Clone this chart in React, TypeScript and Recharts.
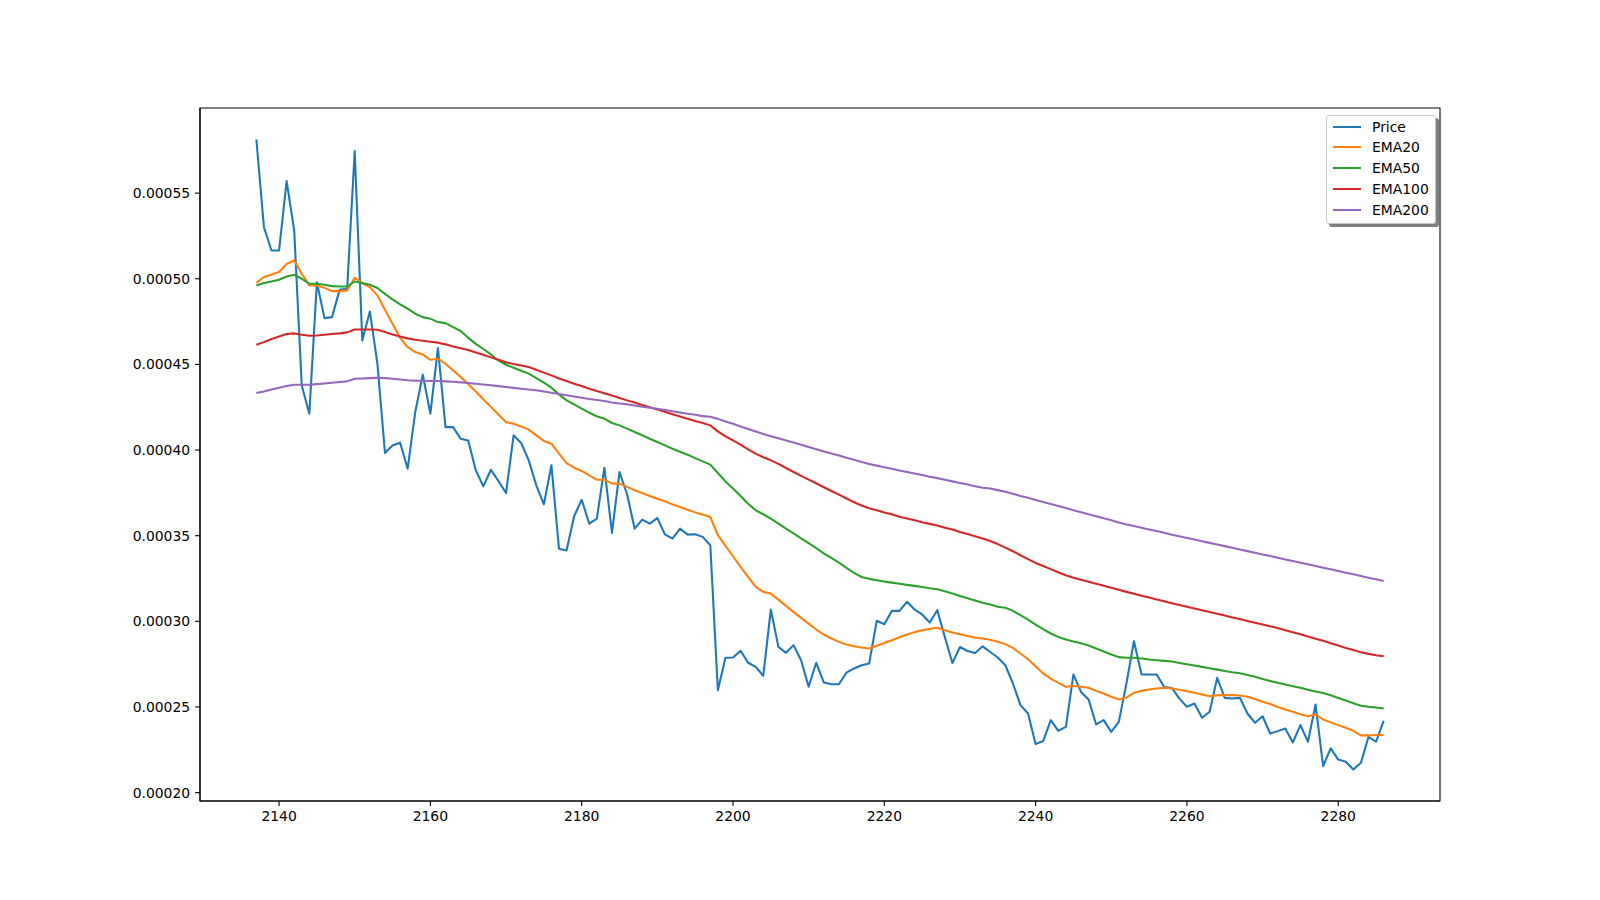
import React from 'react';
import { LineChart, Line, XAxis, YAxis, ReferenceArea, Legend } from 'recharts';

// x index of the first point; one point per integer index
const START_INDEX = 2137;

const price = [
  58.13e-5, 53.01e-5, 51.65e-5, 51.65e-5, 55.70e-5, 52.82e-5, 43.77e-5, 42.12e-5, 49.80e-5, 47.70e-5,
  47.76e-5, 49.35e-5, 49.41e-5, 57.45e-5, 46.40e-5, 48.09e-5, 45.04e-5, 39.83e-5, 40.27e-5, 40.43e-5,
  38.91e-5, 42.22e-5, 44.40e-5, 42.12e-5, 45.95e-5, 41.34e-5, 41.34e-5, 40.66e-5, 40.56e-5, 38.82e-5,
  37.88e-5, 38.85e-5, 38.19e-5, 37.49e-5, 40.86e-5, 40.41e-5, 39.40e-5, 37.94e-5, 36.83e-5, 39.11e-5,
  34.24e-5, 34.14e-5, 36.13e-5, 37.10e-5, 35.70e-5, 35.99e-5, 38.97e-5, 35.16e-5, 38.72e-5, 37.42e-5,
  35.41e-5, 35.94e-5, 35.70e-5, 36.03e-5, 35.08e-5, 34.83e-5, 35.41e-5, 35.06e-5, 35.08e-5, 34.93e-5,
  34.44e-5, 25.98e-5, 27.87e-5, 27.89e-5, 28.28e-5, 27.58e-5, 27.34e-5, 26.82e-5, 30.69e-5, 28.51e-5,
  28.16e-5, 28.61e-5, 27.73e-5, 26.18e-5, 27.58e-5, 26.43e-5, 26.33e-5, 26.33e-5, 27.01e-5, 27.25e-5,
  27.44e-5, 27.54e-5, 30.03e-5, 29.83e-5, 30.61e-5, 30.61e-5, 31.14e-5, 30.69e-5, 30.40e-5, 29.93e-5,
  30.65e-5, 29.09e-5, 27.57e-5, 28.50e-5, 28.27e-5, 28.15e-5, 28.54e-5, 28.21e-5, 27.89e-5, 27.44e-5,
  26.37e-5, 25.11e-5, 24.62e-5, 22.83e-5, 23.01e-5, 24.23e-5, 23.61e-5, 23.84e-5, 26.90e-5, 25.88e-5,
  25.44e-5, 23.98e-5, 24.23e-5, 23.55e-5, 24.13e-5, 26.37e-5, 28.84e-5, 26.90e-5, 26.90e-5, 26.90e-5,
  26.17e-5, 26.11e-5, 25.49e-5, 25.01e-5, 25.20e-5, 24.37e-5, 24.72e-5, 26.70e-5, 25.53e-5, 25.49e-5,
  25.53e-5, 24.62e-5, 24.08e-5, 24.46e-5, 23.45e-5, 23.59e-5, 23.74e-5, 22.93e-5, 23.94e-5, 22.97e-5,
  25.14e-5, 21.55e-5, 22.58e-5, 21.93e-5, 21.80e-5, 21.35e-5, 21.74e-5, 23.26e-5, 22.97e-5, 24.19e-5,
];

const ema20 = [
  49.76e-5, 50.10e-5, 50.25e-5, 50.39e-5, 50.87e-5, 51.07e-5, 50.29e-5, 49.61e-5, 49.61e-5, 49.47e-5,
  49.28e-5, 49.28e-5, 49.32e-5, 50.06e-5, 49.75e-5, 49.51e-5, 49.03e-5, 48.19e-5, 47.37e-5, 46.55e-5,
  46.01e-5, 45.72e-5, 45.58e-5, 45.27e-5, 45.33e-5, 45.04e-5, 44.65e-5, 44.26e-5, 43.85e-5, 43.42e-5,
  42.96e-5, 42.52e-5, 42.08e-5, 41.63e-5, 41.53e-5, 41.38e-5, 41.19e-5, 40.86e-5, 40.53e-5, 40.37e-5,
  39.79e-5, 39.24e-5, 38.97e-5, 38.78e-5, 38.52e-5, 38.27e-5, 38.27e-5, 38.04e-5, 38.04e-5, 37.85e-5,
  37.65e-5, 37.49e-5, 37.32e-5, 37.16e-5, 37.01e-5, 36.83e-5, 36.67e-5, 36.52e-5, 36.36e-5, 36.23e-5,
  36.09e-5, 35.03e-5, 34.40e-5, 33.80e-5, 33.18e-5, 32.59e-5, 32.01e-5, 31.72e-5, 31.62e-5, 31.27e-5,
  30.90e-5, 30.55e-5, 30.20e-5, 29.87e-5, 29.52e-5, 29.23e-5, 29.00e-5, 28.80e-5, 28.65e-5, 28.55e-5,
  28.47e-5, 28.41e-5, 28.57e-5, 28.74e-5, 28.90e-5, 29.07e-5, 29.23e-5, 29.37e-5, 29.48e-5, 29.56e-5,
  29.62e-5, 29.48e-5, 29.35e-5, 29.25e-5, 29.15e-5, 29.05e-5, 29.00e-5, 28.92e-5, 28.81e-5, 28.67e-5,
  28.45e-5, 28.12e-5, 27.79e-5, 27.38e-5, 26.96e-5, 26.66e-5, 26.41e-5, 26.18e-5, 26.22e-5, 26.18e-5,
  26.12e-5, 25.94e-5, 25.79e-5, 25.60e-5, 25.44e-5, 25.56e-5, 25.83e-5, 25.94e-5, 26.02e-5, 26.08e-5,
  26.12e-5, 26.08e-5, 26.00e-5, 25.92e-5, 25.83e-5, 25.73e-5, 25.63e-5, 25.69e-5, 25.69e-5, 25.69e-5,
  25.67e-5, 25.60e-5, 25.46e-5, 25.30e-5, 25.17e-5, 25.00e-5, 24.85e-5, 24.72e-5, 24.58e-5, 24.46e-5,
  24.56e-5, 24.27e-5, 24.10e-5, 23.94e-5, 23.79e-5, 23.61e-5, 23.34e-5, 23.34e-5, 23.36e-5, 23.36e-5,
];

const ema50 = [
  49.61e-5, 49.75e-5, 49.84e-5, 49.94e-5, 50.13e-5, 50.23e-5, 50.00e-5, 49.71e-5, 49.71e-5, 49.65e-5,
  49.57e-5, 49.55e-5, 49.55e-5, 49.84e-5, 49.75e-5, 49.65e-5, 49.46e-5, 49.12e-5, 48.79e-5, 48.50e-5,
  48.25e-5, 47.96e-5, 47.76e-5, 47.67e-5, 47.47e-5, 47.41e-5, 47.18e-5, 46.95e-5, 46.55e-5, 46.20e-5,
  45.90e-5, 45.58e-5, 45.23e-5, 44.98e-5, 44.81e-5, 44.63e-5, 44.46e-5, 44.20e-5, 43.93e-5, 43.64e-5,
  43.25e-5, 42.90e-5, 42.67e-5, 42.42e-5, 42.18e-5, 41.97e-5, 41.83e-5, 41.58e-5, 41.44e-5, 41.25e-5,
  41.05e-5, 40.86e-5, 40.66e-5, 40.47e-5, 40.27e-5, 40.08e-5, 39.90e-5, 39.73e-5, 39.53e-5, 39.34e-5,
  39.15e-5, 38.66e-5, 38.17e-5, 37.75e-5, 37.32e-5, 36.87e-5, 36.48e-5, 36.25e-5, 36.00e-5, 35.71e-5,
  35.41e-5, 35.14e-5, 34.85e-5, 34.56e-5, 34.27e-5, 33.97e-5, 33.70e-5, 33.43e-5, 33.12e-5, 32.83e-5,
  32.59e-5, 32.48e-5, 32.40e-5, 32.32e-5, 32.26e-5, 32.19e-5, 32.13e-5, 32.07e-5, 32.01e-5, 31.93e-5,
  31.87e-5, 31.75e-5, 31.62e-5, 31.48e-5, 31.35e-5, 31.21e-5, 31.08e-5, 30.98e-5, 30.85e-5, 30.79e-5,
  30.61e-5, 30.36e-5, 30.10e-5, 29.81e-5, 29.54e-5, 29.29e-5, 29.09e-5, 28.94e-5, 28.82e-5, 28.72e-5,
  28.59e-5, 28.41e-5, 28.24e-5, 28.06e-5, 27.91e-5, 27.87e-5, 27.87e-5, 27.83e-5, 27.77e-5, 27.73e-5,
  27.69e-5, 27.65e-5, 27.57e-5, 27.50e-5, 27.42e-5, 27.34e-5, 27.26e-5, 27.18e-5, 27.10e-5, 27.03e-5,
  26.97e-5, 26.87e-5, 26.76e-5, 26.64e-5, 26.52e-5, 26.41e-5, 26.31e-5, 26.21e-5, 26.12e-5, 26.00e-5,
  25.90e-5, 25.81e-5, 25.69e-5, 25.53e-5, 25.38e-5, 25.22e-5, 25.07e-5, 25.01e-5, 24.97e-5, 24.91e-5,
];

const ema100 = [
  46.15e-5, 46.30e-5, 46.48e-5, 46.63e-5, 46.77e-5, 46.81e-5, 46.73e-5, 46.67e-5, 46.69e-5, 46.73e-5,
  46.77e-5, 46.81e-5, 46.87e-5, 47.04e-5, 47.04e-5, 47.04e-5, 47.02e-5, 46.89e-5, 46.75e-5, 46.63e-5,
  46.52e-5, 46.44e-5, 46.38e-5, 46.32e-5, 46.27e-5, 46.17e-5, 46.05e-5, 45.94e-5, 45.84e-5, 45.70e-5,
  45.56e-5, 45.41e-5, 45.27e-5, 45.12e-5, 45.02e-5, 44.94e-5, 44.85e-5, 44.69e-5, 44.52e-5, 44.36e-5,
  44.18e-5, 44.03e-5, 43.87e-5, 43.74e-5, 43.58e-5, 43.45e-5, 43.31e-5, 43.18e-5, 43.04e-5, 42.90e-5,
  42.77e-5, 42.63e-5, 42.50e-5, 42.36e-5, 42.23e-5, 42.09e-5, 41.96e-5, 41.83e-5, 41.70e-5, 41.58e-5,
  41.44e-5, 41.09e-5, 40.80e-5, 40.57e-5, 40.32e-5, 40.04e-5, 39.79e-5, 39.58e-5, 39.40e-5, 39.19e-5,
  38.95e-5, 38.72e-5, 38.49e-5, 38.27e-5, 38.06e-5, 37.83e-5, 37.61e-5, 37.40e-5, 37.17e-5, 36.95e-5,
  36.76e-5, 36.60e-5, 36.48e-5, 36.35e-5, 36.25e-5, 36.11e-5, 36.00e-5, 35.90e-5, 35.78e-5, 35.69e-5,
  35.59e-5, 35.47e-5, 35.36e-5, 35.22e-5, 35.10e-5, 34.97e-5, 34.83e-5, 34.69e-5, 34.51e-5, 34.30e-5,
  34.09e-5, 33.86e-5, 33.63e-5, 33.41e-5, 33.23e-5, 33.05e-5, 32.87e-5, 32.69e-5, 32.54e-5, 32.43e-5,
  32.31e-5, 32.19e-5, 32.08e-5, 31.96e-5, 31.84e-5, 31.72e-5, 31.61e-5, 31.50e-5, 31.39e-5, 31.28e-5,
  31.17e-5, 31.06e-5, 30.96e-5, 30.85e-5, 30.75e-5, 30.65e-5, 30.55e-5, 30.44e-5, 30.34e-5, 30.23e-5,
  30.13e-5, 30.02e-5, 29.92e-5, 29.81e-5, 29.71e-5, 29.61e-5, 29.48e-5, 29.36e-5, 29.25e-5, 29.11e-5,
  28.99e-5, 28.86e-5, 28.72e-5, 28.59e-5, 28.45e-5, 28.32e-5, 28.20e-5, 28.10e-5, 28.02e-5, 27.96e-5,
];

const ema200 = [
  43.33e-5, 43.42e-5, 43.54e-5, 43.64e-5, 43.74e-5, 43.81e-5, 43.81e-5, 43.81e-5, 43.85e-5, 43.89e-5,
  43.93e-5, 43.97e-5, 44.01e-5, 44.16e-5, 44.18e-5, 44.20e-5, 44.22e-5, 44.20e-5, 44.16e-5, 44.12e-5,
  44.07e-5, 44.05e-5, 44.05e-5, 44.03e-5, 44.03e-5, 44.01e-5, 43.99e-5, 43.95e-5, 43.91e-5, 43.87e-5,
  43.83e-5, 43.78e-5, 43.73e-5, 43.68e-5, 43.63e-5, 43.58e-5, 43.53e-5, 43.49e-5, 43.42e-5, 43.34e-5,
  43.27e-5, 43.20e-5, 43.13e-5, 43.05e-5, 42.98e-5, 42.92e-5, 42.86e-5, 42.78e-5, 42.72e-5, 42.67e-5,
  42.60e-5, 42.53e-5, 42.47e-5, 42.41e-5, 42.34e-5, 42.26e-5, 42.19e-5, 42.12e-5, 42.06e-5, 41.98e-5,
  41.94e-5, 41.82e-5, 41.67e-5, 41.53e-5, 41.37e-5, 41.23e-5, 41.08e-5, 40.94e-5, 40.81e-5, 40.69e-5,
  40.56e-5, 40.44e-5, 40.31e-5, 40.18e-5, 40.05e-5, 39.92e-5, 39.80e-5, 39.68e-5, 39.55e-5, 39.43e-5,
  39.30e-5, 39.19e-5, 39.09e-5, 39.00e-5, 38.91e-5, 38.81e-5, 38.72e-5, 38.63e-5, 38.54e-5, 38.44e-5,
  38.36e-5, 38.26e-5, 38.17e-5, 38.08e-5, 37.99e-5, 37.89e-5, 37.80e-5, 37.75e-5, 37.66e-5, 37.57e-5,
  37.45e-5, 37.32e-5, 37.21e-5, 37.09e-5, 36.97e-5, 36.85e-5, 36.73e-5, 36.61e-5, 36.49e-5, 36.37e-5,
  36.25e-5, 36.13e-5, 36.02e-5, 35.90e-5, 35.77e-5, 35.65e-5, 35.56e-5, 35.46e-5, 35.36e-5, 35.27e-5,
  35.17e-5, 35.06e-5, 34.97e-5, 34.87e-5, 34.78e-5, 34.68e-5, 34.58e-5, 34.49e-5, 34.39e-5, 34.30e-5,
  34.19e-5, 34.10e-5, 34.00e-5, 33.90e-5, 33.81e-5, 33.71e-5, 33.61e-5, 33.52e-5, 33.42e-5, 33.33e-5,
  33.23e-5, 33.13e-5, 33.04e-5, 32.94e-5, 32.84e-5, 32.75e-5, 32.65e-5, 32.55e-5, 32.46e-5, 32.36e-5,
];

const xTicks = [2140, 2160, 2180, 2200, 2220, 2240, 2260, 2280];
const yTicks = [0.0002, 0.00025, 0.0003, 0.00035, 0.0004, 0.00045, 0.0005, 0.00055];

const seriesKeys = ['price', 'ema20', 'ema50', 'ema100', 'ema200'];
const seriesNames = ['Price', 'EMA20', 'EMA50', 'EMA100', 'EMA200'];
const seriesColors = ['#1f77b4', '#ff7f0e', '#2ca02c', '#d62728', '#9467bd'];

const data = price.map((p, i) => ({
  x: START_INDEX + i,
  price: p,
  ema20: ema20[i],
  ema50: ema50[i],
  ema100: ema100[i],
  ema200: ema200[i],
}));

// matplotlib-like autoscale with 5% margins
const xMin = START_INDEX;
const xMax = START_INDEX + price.length - 1;
const xPad = (xMax - xMin) * 0.05;
const xDomain: [number, number] = [xMin - xPad, xMax + xPad];

const allVals = [...price, ...ema20, ...ema50, ...ema100, ...ema200];
const yMinV = Math.min(...allVals);
const yMaxV = Math.max(...allVals);
const yPad = (yMaxV - yMinV) * 0.05;
const yDomain: [number, number] = [yMinV - yPad, yMaxV + yPad];

const FONT = "'DejaVu Sans', sans-serif";
const FS = 13.9;

const LegendBox = () => (
  <div style={{ position: 'relative', width: 111, height: 110 }}>
    <div
      style={{
        position: 'absolute', left: 3, top: 3, width: 110, height: 109,
        background: 'rgba(0,0,0,0.5)', borderRadius: 3,
      }}
    />
    <div
      style={{
        position: 'absolute', left: 0, top: 0, width: 108, height: 107,
        background: '#fff', border: '1px solid #c8c8c8', borderRadius: 3,
        fontFamily: FONT, fontSize: FS, color: '#000',
      }}
    >
      {seriesNames.map((name, i) => (
        <div
          key={name}
          style={{ position: 'absolute', left: 0, top: 0.5 + i * 20.8, height: 20, display: 'flex', alignItems: 'center' }}
        >
          <div style={{ marginLeft: 6, width: 28, height: 2, background: seriesColors[i] }} />
          <span style={{ marginLeft: 11, lineHeight: '16px' }}>{name}</span>
        </div>
      ))}
    </div>
  </div>
);

export default function App() {
  return (
    <div style={{ position: 'absolute', left: 0, top: 0, width: 1600, height: 900, background: '#fff' }}>
      <LineChart
        width={1600}
        height={900}
        data={data}
        margin={{ top: 108, right: 160, bottom: 69, left: 100 }}
      >
        <XAxis
          dataKey="x"
          type="number"
          domain={xDomain}
          allowDataOverflow
          ticks={xTicks}
          height={30}
          tickSize={4.9}
          tickMargin={5}
          axisLine={{ stroke: '#000', strokeWidth: 1.1 }}
          tickLine={{ stroke: '#000', strokeWidth: 1.1 }}
          tick={{ fontFamily: FONT, fontSize: FS, fill: '#000' }}
        />
        <YAxis
          type="number"
          domain={yDomain}
          allowDataOverflow
          ticks={yTicks}
          width={100}
          tickSize={4.9}
          tickMargin={5}
          tickFormatter={(v: number) => v.toFixed(5)}
          axisLine={{ stroke: '#000', strokeWidth: 1.1 }}
          tickLine={{ stroke: '#000', strokeWidth: 1.1 }}
          tick={{ fontFamily: FONT, fontSize: FS, fill: '#000' }}
        />
        {seriesKeys.map((k, i) => (
          <Line
            key={k}
            type="linear"
            dataKey={k}
            name={seriesNames[i]}
            stroke={seriesColors[i]}
            strokeWidth={2.08}
            strokeLinejoin="round"
            dot={false}
            activeDot={false}
            isAnimationActive={false}
          />
        ))}
        <ReferenceArea
          x1={xDomain[0]}
          x2={xDomain[1]}
          y1={yDomain[0]}
          y2={yDomain[1]}
          fill="none"
          fillOpacity={0}
          stroke="#000"
          strokeWidth={1.1}
          ifOverflow="visible"
        />
        <Legend
          layout="vertical"
          align="center"
          verticalAlign="middle"
          content={() => <LegendBox />}
          wrapperStyle={{ position: 'absolute', left: 1326, top: 115, width: 116, height: 116 }}
        />
      </LineChart>
    </div>
  );
}
